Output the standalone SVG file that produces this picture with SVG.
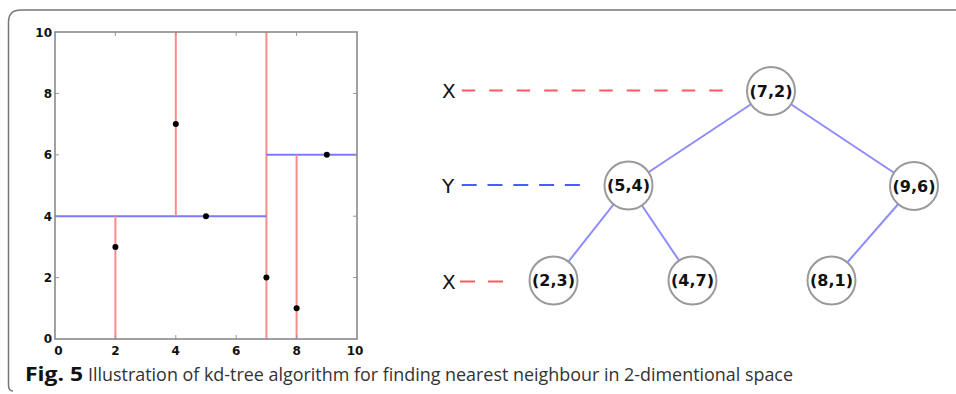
<svg xmlns="http://www.w3.org/2000/svg" width="956" height="394" viewBox="0 0 956 394">
<style>
.split-x{stroke:#ff8a8a;stroke-width:2;fill:none}
.split-y{stroke:#7a7aff;stroke-width:2;fill:none}
.frame{stroke:#8a8a8a;stroke-width:1.6;fill:none}
.tick{stroke:#999;stroke-width:1}
.pt{fill:#000}
.tl{font-family:"DejaVu Sans",sans-serif;font-weight:bold;font-size:12px;fill:#111}
.edge{stroke:#8c8cff;stroke-width:2}
.node circle{fill:#fff;stroke:#9a9a9a;stroke-width:2}
.node text{font-family:"DejaVu Sans",sans-serif;font-weight:bold;font-size:16px;fill:#111;text-anchor:middle}
.lvl{font-family:"DejaVu Sans",sans-serif;font-size:20px;fill:#111}
.dx{stroke:#ff5a64;stroke-width:2.2}
.dy{stroke:#4a5cff;stroke-width:2.2}
</style>
<rect width="956" height="394" fill="#fff"/>
<path d="M 13,391 Q 8.5,391 8.5,385 L 8.5,22 Q 8.5,10 21,10 L 956,10" fill="none" stroke="#777" stroke-width="1.5"/>

<g id="plot">
  <g id="splits">
    <line class="split-x" x1="266.4" y1="32" x2="266.4" y2="339"/>
    <line class="split-y" x1="55" y1="216.2" x2="266.4" y2="216.2"/>
    <line class="split-x" x1="115.4" y1="216.2" x2="115.4" y2="339"/>
    <line class="split-x" x1="175.8" y1="32" x2="175.8" y2="216.2"/>
    <line class="split-y" x1="266.4" y1="154.8" x2="357" y2="154.8"/>
    <line class="split-x" x1="296.6" y1="154.8" x2="296.6" y2="339"/>
  </g>
  <g id="ticks">
    <line class="tick" x1="115.4" y1="339" x2="115.4" y2="335"/>
    <line class="tick" x1="175.8" y1="339" x2="175.8" y2="335"/>
    <line class="tick" x1="236.2" y1="339" x2="236.2" y2="335"/>
    <line class="tick" x1="296.6" y1="339" x2="296.6" y2="335"/>
    <line class="tick" x1="115.4" y1="32" x2="115.4" y2="36"/>
    <line class="tick" x1="175.8" y1="32" x2="175.8" y2="36"/>
    <line class="tick" x1="236.2" y1="32" x2="236.2" y2="36"/>
    <line class="tick" x1="296.6" y1="32" x2="296.6" y2="36"/>
    <line class="tick" x1="55" y1="277.6" x2="59" y2="277.6"/>
    <line class="tick" x1="55" y1="216.2" x2="59" y2="216.2"/>
    <line class="tick" x1="55" y1="154.8" x2="59" y2="154.8"/>
    <line class="tick" x1="55" y1="93.4" x2="59" y2="93.4"/>
    <line class="tick" x1="357" y1="277.6" x2="353" y2="277.6"/>
    <line class="tick" x1="357" y1="216.2" x2="353" y2="216.2"/>
    <line class="tick" x1="357" y1="154.8" x2="353" y2="154.8"/>
    <line class="tick" x1="357" y1="93.4" x2="353" y2="93.4"/>
  </g>
  <rect class="frame" x="55" y="32" width="302" height="307"/>
  <g id="points">
    <circle class="pt" cx="115.4" cy="246.9" r="3"/>
    <circle class="pt" cx="206" cy="216.2" r="3"/>
    <circle class="pt" cx="175.8" cy="124.1" r="3"/>
    <circle class="pt" cx="266.4" cy="277.6" r="3"/>
    <circle class="pt" cx="296.6" cy="308.3" r="3"/>
    <circle class="pt" cx="326.8" cy="154.8" r="3"/>
  </g>
  <g id="ylabels" text-anchor="end">
    <text class="tl" x="52" y="343">0</text>
    <text class="tl" x="52" y="282">2</text>
    <text class="tl" x="52" y="220.5">4</text>
    <text class="tl" x="52" y="159">6</text>
    <text class="tl" x="52" y="97.5">8</text>
    <text class="tl" x="52" y="36.5">10</text>
  </g>
  <g id="xlabels" text-anchor="middle">
    <text class="tl" x="58.5" y="355">0</text>
    <text class="tl" x="115.4" y="355">2</text>
    <text class="tl" x="175.8" y="355">4</text>
    <text class="tl" x="236.2" y="355">6</text>
    <text class="tl" x="296.6" y="355">8</text>
    <text class="tl" x="355" y="355">10</text>
  </g>
</g>

<g id="levels">
  <text class="lvl" x="442" y="97.5">X</text>
  <line class="dx" x1="461.7" y1="90.5" x2="723" y2="90.5" stroke-dasharray="13.5 14"/>
  <text class="lvl" x="442" y="192.5">Y</text>
  <line class="dy" x1="461.7" y1="185" x2="580" y2="185" stroke-dasharray="15 10.8"/>
  <text class="lvl" x="442" y="288.5">X</text>
  <line class="dx" x1="460" y1="281.5" x2="505" y2="281.5" stroke-dasharray="15 13"/>
</g>

<g id="connectors">
  <line class="edge" x1="771" y1="91" x2="628.5" y2="185.5"/>
  <line class="edge" x1="771" y1="91" x2="914" y2="186"/>
  <line class="edge" x1="628.5" y1="185.5" x2="553.5" y2="280.5"/>
  <line class="edge" x1="628.5" y1="185.5" x2="692.5" y2="280.5"/>
  <line class="edge" x1="914" y1="186" x2="831.5" y2="280.5"/>
</g>

<g id="n72" class="node"><circle cx="771" cy="91" r="24"/><text x="771" y="96.5">(7,2)</text></g>
<g id="n54" class="node"><circle cx="628.5" cy="185.5" r="24"/><text x="628.5" y="191">(5,4)</text></g>
<g id="n96" class="node"><circle cx="914" cy="186" r="24"/><text x="914" y="191.5">(9,6)</text></g>
<g id="n23" class="node"><circle cx="553.5" cy="280.5" r="24"/><text x="553.5" y="286">(2,3)</text></g>
<g id="n47" class="node"><circle cx="692.5" cy="280.5" r="24"/><text x="692.5" y="286">(4,7)</text></g>
<g id="n81" class="node"><circle cx="831.5" cy="280.5" r="24"/><text x="831.5" y="286">(8,1)</text></g>

<g id="caption">
  <text x="25" y="381" font-family="'Open Sans',sans-serif" font-size="19" font-weight="bold" fill="#111" textLength="58" lengthAdjust="spacingAndGlyphs">Fig. 5</text>
  <text x="88" y="381" font-family="'Open Sans',sans-serif" font-size="18" fill="#333" textLength="705" lengthAdjust="spacingAndGlyphs">Illustration of kd-tree algorithm for finding nearest neighbour in 2-dimentional space</text>
</g>
</svg>
